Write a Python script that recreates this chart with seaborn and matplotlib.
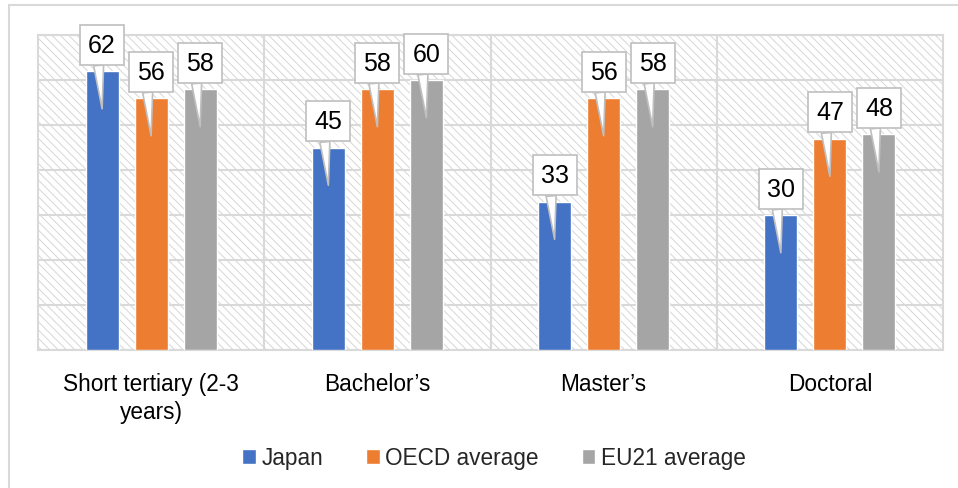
import matplotlib
matplotlib.use("Agg")
import matplotlib.pyplot as plt
from matplotlib.patches import Rectangle
import seaborn as sns
import pandas as pd

categories = ["Short tertiary (2-3\nyears)", "Bachelor\u2019s", "Master\u2019s", "Doctoral"]
series = ["Japan", "OECD average", "EU21 average"]
japan = [62, 45, 33, 30]
oecd = [56, 58, 56, 47]
eu21 = [58, 60, 58, 48]
colors = ["#4472C4", "#ED7D31", "#A5A5A5"]

rows = []
for name, vals in zip(series, [japan, oecd, eu21]):
    for c, v in zip(categories, vals):
        rows.append({"level": c, "series": name, "value": v})
df = pd.DataFrame(rows)

sns.set_theme(style="white")
plt.rcParams["font.family"] = ["Liberation Sans", "DejaVu Sans"]
plt.rcParams["hatch.linewidth"] = 0.7

W, H = 958, 489
fig = plt.figure(figsize=(W / 100, H / 100), dpi=100)
ax = fig.add_axes([38 / W, 1 - 351 / H, (943 - 38) / W, (351 - 36) / H])

grid_c = "#D9D9D9"
# hatched background of plot area
bg = Rectangle((0, 0), 1, 1, transform=ax.transAxes, facecolor="white",
               edgecolor="#D6D6D6", hatch="\\\\\\\\", linewidth=0, zorder=0)
ax.add_patch(bg)
ax.patch.set_alpha(0)

sns.barplot(data=df, x="level", y="value", hue="series", order=categories,
            hue_order=series, palette=colors, width=0.65, gap=0.33,
            saturation=1, ax=ax, legend=True, zorder=3)

ax.set_ylim(0, 70)
ax.set_xlim(-0.5, len(categories) - 0.5)
ax.set_yticks(range(0, 71, 10))
ax.set_yticklabels([])
ax.set_xticks(range(len(categories)))
ax.set_xticks([0.5, 1.5, 2.5], minor=True)
ax.set_xticklabels(categories, fontsize=16.3, color="black", linespacing=1.25)
ax.tick_params(axis="x", which="both", length=0, pad=16)
ax.tick_params(axis="y", length=0)
ax.grid(True, axis="y", color=grid_c, linewidth=1.5, zorder=1)
ax.grid(True, axis="x", which="minor", color=grid_c, linewidth=1.5, zorder=1)
ax.grid(False, axis="x", which="major")
ax.set_axisbelow(True)
for s in ax.spines.values():
    s.set_color(grid_c)
    s.set_linewidth(1.5)
ax.set_xlabel("")
ax.set_ylabel("")

# callout data labels
for p in ax.patches:
    if p is bg:
        continue
    h = p.get_height()
    if h is None or h <= 0:
        continue
    xc = p.get_x() + p.get_width() / 2
    ax.annotate(f"{h:.0f}", xy=(xc, h - 8.4), xycoords="data",
                xytext=(0, 64), textcoords="offset pixels",
                ha="center", va="center", fontsize=18, color="black",
                bbox=dict(boxstyle="square,pad=0.32", fc="white", ec="#BFBFBF", lw=1.2),
                arrowprops=dict(arrowstyle="wedge,tail_width=0.4,shrink_factor=0.5",
                                fc="white", ec="#BFBFBF", lw=1.2,
                                relpos=(0.35, 0), shrinkA=0, shrinkB=0),
                zorder=5, annotation_clip=False)

# legend
handles, labels = ax.get_legend_handles_labels()
ax.get_legend().remove()
fig.legend(handles, labels, loc="center", bbox_to_anchor=(494 / W, 1 - 459 / H),
           ncol=3, frameon=False, fontsize=16.3, handlelength=0.6, handleheight=0.6,
           handletextpad=0.25, columnspacing=1.9)

# outer chart border (cropped at right/bottom)
fig.patches.append(Rectangle((9 / W, -0.2), 1.2, 1 - 6 / H + 0.2,
                             transform=fig.transFigure, fill=False,
                             edgecolor=grid_c, linewidth=1.5))

fig.savefig("out.png", dpi=100)
